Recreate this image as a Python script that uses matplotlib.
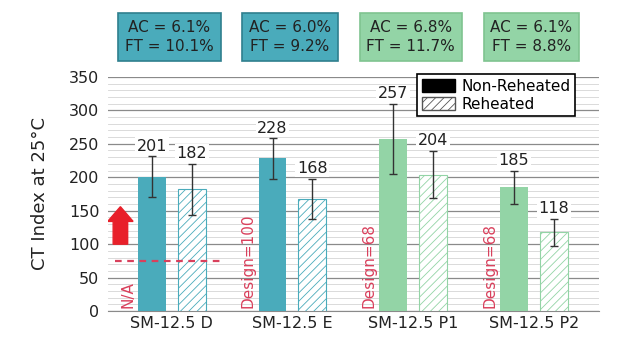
import numpy as np
import matplotlib.pyplot as plt
from matplotlib.patches import Patch, FancyArrow
from matplotlib.ticker import MultipleLocator

# data
mixes = ["SM-12.5 D", "SM-12.5 E", "SM-12.5 P1", "SM-12.5 P2"]
non_reheated = [201, 228, 257, 185]
non_reheated_err = [30, 30, 52, 25]
reheated = [182, 168, 204, 118]
reheated_err = [38, 30, 35, 20]
ac = ["6.1%", "6.0%", "6.8%", "6.1%"]
ft = ["10.1%", "9.2%", "11.7%", "8.8%"]
design = ["N/A", "Design=100", "Design=68", "Design=68"]

teal = "#4aabbb"
green = "#93d4a6"
colors = [teal, teal, green, green]
box_edge = ["#2f7f8e", "#2f7f8e", "#7fc490", "#7fc490"]
red = "#d9405c"

plt.rcParams['font.family'] = ['DejaVu Sans']
plt.rcParams['hatch.linewidth'] = 0.6

fig = plt.figure(figsize=(6.3, 3.43), dpi=100)
ax = fig.add_axes([0.171, 0.093, 0.78, 0.683])

x = np.arange(len(mixes))
w = 0.23
off = 0.165

ax.bar(x - off, non_reheated, w, color=colors, zorder=3)
ax.bar(x + off, reheated, w, color="white", edgecolor=colors, hatch="////",
       linewidth=0.8, zorder=3)
ax.errorbar(x - off, non_reheated, yerr=non_reheated_err, fmt="none",
            ecolor="#333333", elinewidth=1, capsize=3, zorder=4)
ax.errorbar(x + off, reheated, yerr=reheated_err, fmt="none",
            ecolor="#333333", elinewidth=1, capsize=3, zorder=4)

for xi, v, e in zip(x - off, non_reheated, non_reheated_err):
    ax.annotate(str(v), (xi, v + e), xytext=(0, 2), textcoords="offset points",
                ha="center", va="bottom", fontsize=11.5, color="#222222", zorder=5,
                bbox=dict(boxstyle="square,pad=0.1", fc="white", ec="none"))
for xi, v, e in zip(x + off, reheated, reheated_err):
    ax.annotate(str(v), (xi, v + e), xytext=(0, 2), textcoords="offset points",
                ha="center", va="bottom", fontsize=11.5, color="#222222", zorder=5,
                bbox=dict(boxstyle="square,pad=0.1", fc="white", ec="none"))

# design notes, rotated
for xi, t in zip(x, design):
    ax.text(xi - off - 0.2, 5, t, rotation=90, ha="center", va="bottom",
            fontsize=11, color=red, zorder=5)

# red arrow and dashed line for mix D
ax.add_patch(FancyArrow(-0.425, 100, 0, 56, width=0.12, head_width=0.21,
                        head_length=22, length_includes_head=True,
                        color="#e8202a", zorder=5))
ax.plot([-0.47, 0.43], [75, 75], ls="--", color=red, lw=1.6, dashes=(3, 2.5), zorder=5)

# AC / FT boxes above the axes
for xi, a, f, c, ec in zip(x, ac, ft, colors, box_edge):
    ax.text(xi - 0.02, 410, "AC = %s\nFT = %s" % (a, f), ha="center", va="center",
            fontsize=11, color="#222222", linespacing=1.35, clip_on=False,
            bbox=dict(boxstyle="square,pad=0.45", fc=c, ec=ec, lw=1.2))

ax.set_xlim(-0.53, 3.54)
ax.set_ylim(0, 350)
ax.yaxis.set_major_locator(MultipleLocator(50))
ax.yaxis.set_minor_locator(MultipleLocator(10))
ax.grid(axis="y", which="major", color="#8a8a8a", lw=0.9, zorder=0)
ax.grid(axis="y", which="minor", color="#d4d4d4", lw=0.6, zorder=0)
ax.set_axisbelow(True)
for s in ax.spines.values():
    s.set_visible(False)
ax.spines["bottom"].set_visible(True)
ax.spines["bottom"].set_color("#8a8a8a")
ax.tick_params(axis="both", which="both", length=0, labelsize=11.5, colors="#222222")
ax.tick_params(axis="y", pad=6)
ax.set_xticks(x)
ax.set_xticklabels(mixes)
ax.set_ylabel("CT Index at 25\u00b0C", fontsize=13, color="#222222", labelpad=14)

handles = [Patch(facecolor="black", edgecolor="black", label="Non-Reheated"),
           Patch(facecolor="white", edgecolor="#555555", hatch="////", label="Reheated")]
leg = ax.legend(handles=handles, loc="upper right", bbox_to_anchor=(0.967, 1.045),
                fontsize=11, frameon=True, fancybox=False, framealpha=1,
                edgecolor="black", handlelength=2.2, handleheight=0.9,
                borderpad=0.3, labelspacing=0.2, handletextpad=0.4)
leg.get_frame().set_linewidth(1.2)
leg.set_zorder(6)

fig.savefig("out.png", dpi=100)
